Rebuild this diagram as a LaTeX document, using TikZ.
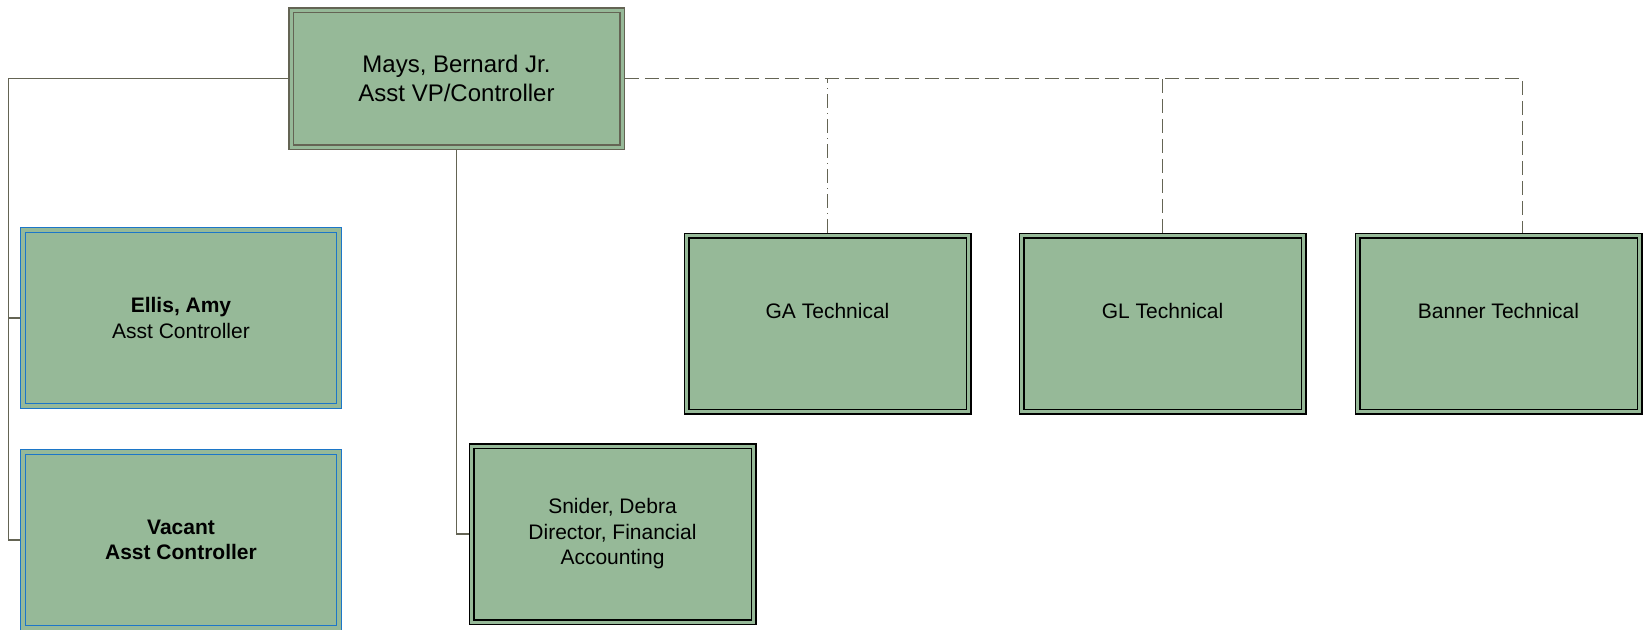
\documentclass[tikz,border=0pt]{standalone}
\usepackage{fontspec}
\setmainfont{Liberation Sans}
\usetikzlibrary{positioning}
\definecolor{boxgreen}{RGB}{150,185,152}
\definecolor{linkgray}{RGB}{100,100,84}
\definecolor{frameblue}{RGB}{28,118,200}
\tikzset{
  orgbox/.style={fill=boxgreen, double=boxgreen, inner sep=0pt, outer sep=3pt,
    align=center, font=\fontsize{21}{25.5}\selectfont,
    minimum width=282pt, minimum height=176pt},
  bossbox/.style={orgbox, draw=linkgray, line width=1.5pt, double distance=3pt,
    minimum width=331pt, minimum height=137pt, font=\fontsize{24}{29.5}\selectfont},
  bluebox/.style={orgbox, draw=frameblue, line width=1.4pt, double distance=3.2pt,
    minimum width=316pt},
  blackbox/.style={orgbox, draw=black, line width=1.5pt, double distance=3pt},
  link/.style={draw=linkgray, line width=1.6pt},
  dashlink/.style={link, dash pattern=on 14pt off 6pt},
  dashdotlink/.style={link, dash pattern=on 14pt off 5pt on 1pt off 5pt},
}
\begin{document}
\begin{tikzpicture}[x=1pt,y=-1pt]
    \useasboundingbox (0,0) rectangle (1645,629);
    %% Boxes
    \node[bossbox] (mays) at (456.5,78.5) {Mays, Bernard Jr.\\Asst VP/Controller};
    \node[bluebox] (ellis) at (181,318) {\textbf{Ellis, Amy}\\Asst Controller};
    \node[bluebox] (vacant) at (181,540) {\textbf{Vacant}\\\textbf{Asst Controller}};
    \node[blackbox] (snider) at (612.5,534) {Snider, Debra\\Director, Financial\\Accounting};
    \node[blackbox] (ga) at (827.5,323.5) {GA Technical\\\mbox{}};
    \node[blackbox, right=47pt of ga] (gl) {GL Technical\\\mbox{}};
    \node[blackbox, right=48pt of gl] (banner) {Banner Technical\\\mbox{}};
    %% Solid lines
    \coordinate (trunk) at (8.5,0);
    \draw[link] (mays.west) -| (trunk |- vacant.west) -- (vacant.west);
    \draw[link] (trunk |- ellis.west) -- (ellis.west);
    \draw[link] (mays.south) |- (snider.west);
    %% Dashed lines
    \draw[dashlink] (mays.east) -| ([xshift=24pt]banner.north);
    \draw[dashlink] (gl.north) -- (gl.north |- mays.east);
    \draw[dashdotlink] (ga.north) -- (ga.north |- mays.east);
\end{tikzpicture}
\end{document}
